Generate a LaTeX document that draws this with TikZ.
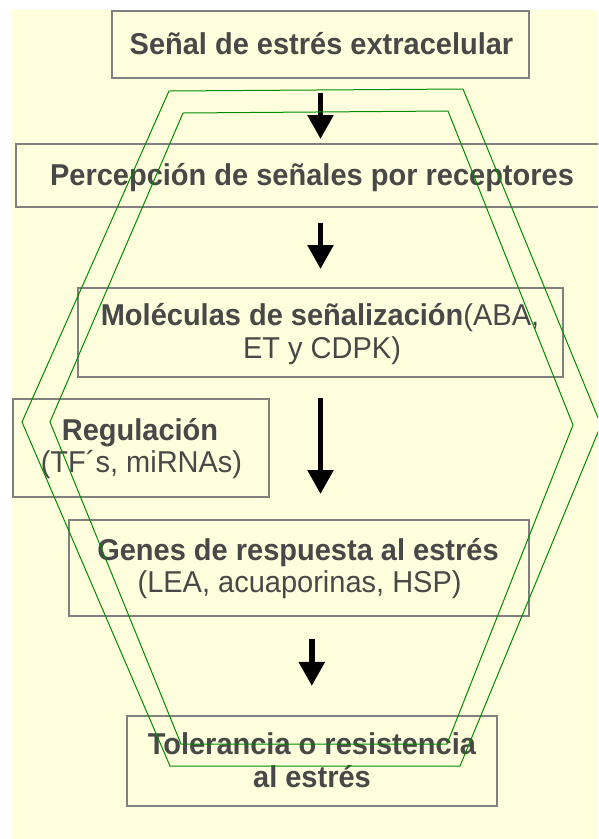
\documentclass[tikz,border=0pt]{standalone}
\usepackage{fontspec}
\usepackage{graphicx}
\setmainfont{Liberation Sans}
\usetikzlibrary{arrows.meta}
\definecolor{bgyellow}{HTML}{FFFFDD}
\definecolor{boxgray}{HTML}{808080}
\definecolor{txtgray}{HTML}{484848}
\definecolor{hexgreen}{HTML}{008A00}
\newcommand{\tallt}[1]{\scalebox{1}[1.04]{#1}}
\tikzset{
  stagebox/.style={draw=boxgray, line width=2.2pt, inner sep=0pt, outer sep=0pt},
  lbl/.style={anchor=base, inner sep=0pt, outer sep=0pt, text=txtgray, font=\fontsize{29}{33}\selectfont},
  flowarrow/.style={line width=5.5pt, -{Triangle[length=24pt,width=25pt]}},
  hexline/.style={draw=hexgreen, line width=1pt, line join=miter}
}
\begin{document}
\begin{tikzpicture}[x=1pt,y=-1pt]
\clip (0,0) rectangle (598,839);
\useasboundingbox (0,0) rectangle (598,839);
\fill[bgyellow] (11,10) rectangle (598,839);
% boxes
\node[stagebox, minimum width=417pt, minimum height=67pt] (b1) at (320.5,44.5) {};
\node[stagebox, minimum width=592pt, minimum height=63pt] (b2) at (312,175.5) {};
\node[stagebox, minimum width=485pt, minimum height=89pt] (b3) at (320.5,332.5) {};
\node[stagebox, minimum width=256pt, minimum height=98pt] (b4) at (140.8,447.8) {};
\node[stagebox, minimum width=460pt, minimum height=96pt] (b5) at (299,568) {};
\node[stagebox, minimum width=370pt, minimum height=90pt] (b6) at (311.8,760.9) {};
% texts
\node[lbl] (t1) at (321.5,54) {\tallt{\textbf{Señal de estrés extracelular}}};
\node[lbl] (t2) at (312,185) {\tallt{\textbf{Percepción de señales por receptores}}};
\node[lbl] (t3a) at (320,325) {\tallt{\textbf{Moléculas de señalización}(ABA,}};
\node[lbl] (t3b) at (322,358) {\tallt{ET y CDPK)}};
\node[lbl] (t4a) at (140,440.7) {\tallt{\textbf{Regulación}}};
\node[lbl] (t4b) at (141.5,472.7) {\tallt{(TF´s, miRNAs)}};
\node[lbl] (t5a) at (298,560) {\tallt{\textbf{Genes de respuesta al estrés}}};
\node[lbl] (t5b) at (299.6,592.7) {\tallt{(LEA, acuaporinas, HSP)}};
\node[lbl] (t6a) at (312,754) {\tallt{\textbf{Tolerancia o resistencia}}};
\node[lbl] (t6b) at (312,787) {\tallt{\textbf{al estrés}}};
% arrows
\draw[flowarrow, shorten <=15pt, shorten >=5pt] (b1.south) -- (b1.south |- b2.north);
\draw[flowarrow, shorten <=16pt, shorten >=19pt] (b3.north |- b2.south) -- (b3.north);
\draw[flowarrow, shorten <=21pt, shorten >=26pt] (b3.south) -- (b3.south |- b5.north);
\draw[flowarrow, shorten <=23pt, shorten >=30pt] (b6.north |- b5.south) -- (b6.north);
% hexagons
\draw[hexline] (169,91) -- (463,89) -- (601,425) -- (460,766) -- (170,766) -- (22,422) -- cycle;
\draw[hexline] (183,113) -- (448,111) -- (573,425) -- (447,744) -- (181,744) -- (50,422) -- cycle;
\end{tikzpicture}
\end{document}
